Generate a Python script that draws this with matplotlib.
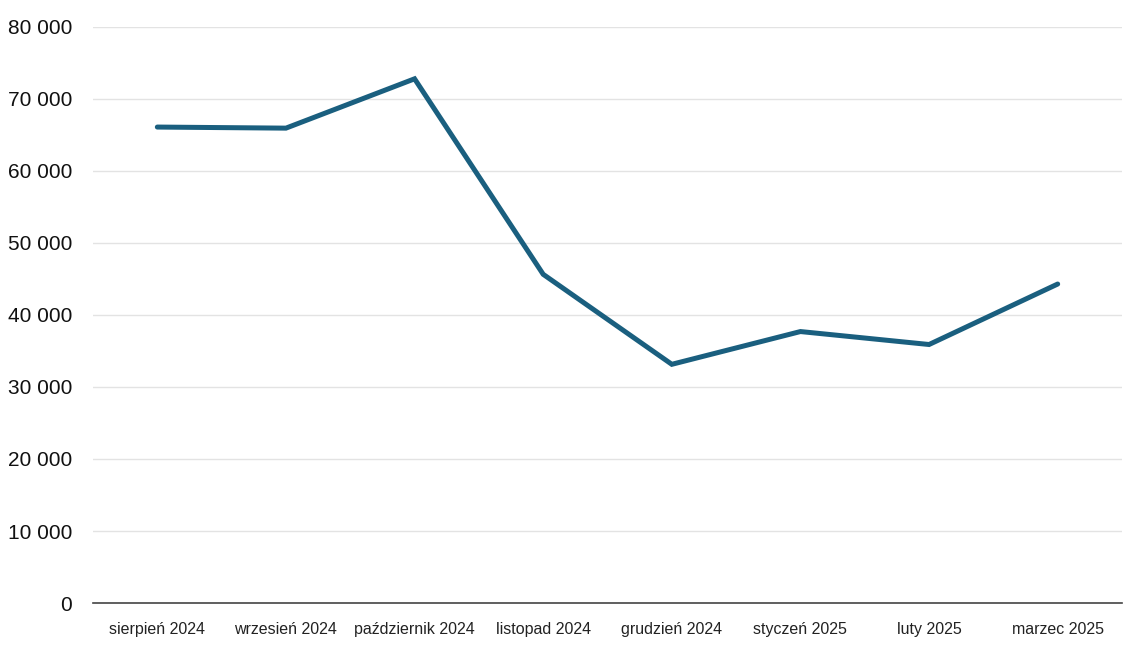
import matplotlib.pyplot as plt
from matplotlib.ticker import FuncFormatter

months = ['sierpień 2024', 'wrzesień 2024', 'październik 2024', 'listopad 2024',
          'grudzień 2024', 'styczeń 2025', 'luty 2025', 'marzec 2025']
values = [66100, 65950, 72800, 45650, 33150, 37700, 35900, 44300]
y_ticks = list(range(0, 80001, 10000))

plt.rcParams['font.family'] = ['Liberation Sans', 'DejaVu Sans']

fig = plt.figure(figsize=(11.37, 6.5), dpi=100)
ax = fig.add_axes([0.0818, 0.0723, 0.905, 0.8862])

x = list(range(len(months)))
ax.plot(x, values, color='#1a5f7f', linewidth=3.6, solid_capstyle='round',
        solid_joinstyle='miter', zorder=3)

ax.set_xlim(-0.5, len(months) - 0.5)
ax.set_ylim(0, 80000)
ax.set_yticks(y_ticks)
ax.yaxis.set_major_formatter(FuncFormatter(lambda v, p: f'{int(v):,}'.replace(',', ' ')))
ax.set_xticks(x)
ax.set_xticklabels(months, fontsize=11.5, color='#222222',
                   family=['Liberation Sans Narrow', 'Liberation Sans', 'DejaVu Sans'])
ax.tick_params(axis='y', labelsize=15, length=0, pad=15, labelcolor='#111111')
ax.tick_params(axis='x', length=0, pad=14)

ax.grid(axis='y', color='#e3e3e3', linewidth=1)
ax.set_axisbelow(True)
for s in ['top', 'right', 'left']:
    ax.spines[s].set_visible(False)
ax.spines['bottom'].set_color('#444444')
ax.spines['bottom'].set_linewidth(1.2)

plt.savefig('out.png', dpi=100)
